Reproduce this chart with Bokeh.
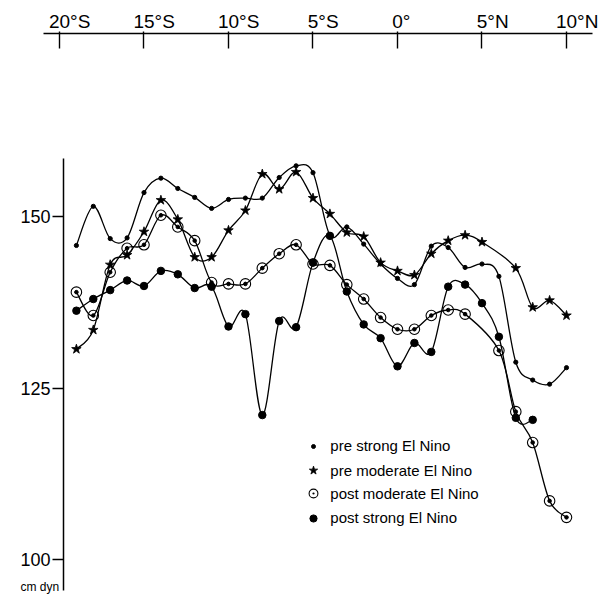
from bokeh.plotting import figure
from bokeh.models import FixedTicker, Label, Legend, LegendItem, ColumnDataSource
from bokeh.embed import file_html
from bokeh.resources import INLINE

# ---------------- data ----------------
lat_ticks = [-20, -15, -10, -5, 0, 5, 10]
lat_tick_labels = ["20°S", "15°S", "10°S", "5°S", "0°", "5°N", "10°N"]
y_ticks = [100, 125, 150]
y_unit = "cm dyn"

pre_strong_lat = [-19, -18, -17, -16, -15, -14, -13, -12, -11, -10, -9, -8, -7, -6, -5,
                  -4, -3, -2, -1, 0, 1, 2, 3, 4, 5, 6, 7, 8, 9, 10]
pre_strong_val = [145.8, 151.5, 146.8, 146.9, 153.5, 155.6, 154.1, 152.8, 151.2, 152.5,
                  152.7, 152.7, 155.7, 157.4, 156.4, 147.3, 148.5, 146.0, 143.1, 141.0,
                  140.1, 145.7, 145.5, 142.6, 143.1, 141.3, 128.8, 126.2, 125.6, 128.0]

pre_moderate_lat = [-19, -18, -17, -16, -15, -14, -13, -12, -11, -10, -9, -8, -7, -6, -5,
                    -4, -3, -2, -1, 0, 1, 2, 3, 4, 5, 7, 8, 9, 10]
pre_moderate_val = [130.7, 133.5, 143.0, 144.4, 147.8, 152.4, 149.6, 144.1, 144.1, 148.0,
                    150.9, 156.2, 154.0, 156.5, 152.7, 150.4, 147.7, 147.1, 143.3, 142.1,
                    141.5, 144.6, 146.5, 147.3, 146.3, 142.5, 136.8, 137.8, 135.6]

post_moderate_lat = [-19, -18, -17, -16, -15, -14, -13, -12, -11, -10, -9, -8, -7, -6, -5,
                     -4, -3, -2, -1, 0, 1, 2, 3, 4, 6, 7, 8, 9, 10]
post_moderate_val = [139.0, 135.6, 141.9, 145.4, 145.9, 150.2, 148.5, 146.5, 140.4, 140.2,
                     140.2, 142.5, 144.6, 145.9, 143.1, 142.9, 140.1, 138.0, 135.3, 133.6,
                     133.6, 135.6, 136.4, 135.8, 130.5, 121.6, 117.1, 108.6, 106.2]

post_strong_lat = [-19, -18, -17, -16, -15, -14, -13, -12, -11, -10, -9, -8, -7, -6, -5,
                   -4, -3, -2, -1, 0, 1, 2, 3, 4, 5, 6, 7, 8]
post_strong_val = [136.3, 138.0, 139.3, 140.7, 139.9, 142.1, 141.6, 139.6, 139.8, 134.0,
                   135.8, 121.1, 134.8, 133.9, 143.3, 147.2, 139.1, 134.3, 132.3, 128.2,
                   131.6, 130.3, 139.8, 140.1, 137.4, 132.5, 120.7, 120.4]

series_labels = ["pre strong El Nino", "pre moderate El Nino",
                 "post moderate El Nino", "post strong El Nino"]

FONT = "Liberation Sans"
W, H = 601, 595

# ---------------- figure (frame covers the whole canvas) ----------------
p = figure(width=W, height=H, output_backend="svg", toolbar_location=None,
           x_range=(-23.491, 12.071), y_range=(94.82, 181.48),
           x_axis_location="above",
           min_border_left=0, min_border_right=0, min_border_top=0, min_border_bottom=0)
p.outline_line_color = None
p.grid.visible = False
p.background_fill_color = "white"
p.border_fill_color = "white"

# top latitude axis
xa = p.xaxis[0]
xa.fixed_location = 176.63
xa.bounds = (-20.947, 11.538)
xa.ticker = FixedTicker(ticks=lat_ticks, minor_ticks=[])
xa.major_label_overrides = {t: "" for t in lat_ticks}
xa.major_tick_in = 15
xa.major_tick_out = 2
xa.minor_tick_in = 0
xa.minor_tick_out = 0
xa.axis_line_width = 1.4
xa.major_tick_line_width = 1.4
xa.axis_line_color = "black"
xa.major_tick_line_color = "black"

# left height axis
ya = p.yaxis[0]
ya.ticker = FixedTicker(ticks=y_ticks, minor_ticks=[])
ya.fixed_location = -19.76
ya.bounds = (95.5, 158.4)
ya.major_tick_out = 11
ya.major_tick_in = 0
ya.minor_tick_in = 0
ya.minor_tick_out = 0
ya.major_label_standoff = 2
ya.axis_line_width = 1.5
ya.major_tick_line_width = 1.4
ya.axis_line_color = "black"
ya.major_tick_line_color = "black"
ya.major_label_text_font = FONT
ya.major_label_text_font_size = "18px"
ya.major_label_text_color = "black"

# top tick labels (number part centred on the tick)
TOP_FS = 19
for t, lbl in zip(lat_ticks, lat_tick_labels):
    num = lbl.rstrip("°SN")
    p.add_layout(Label(x=t, y=H - 21.0, x_units="data", y_units="screen", text=lbl,
                       text_align="left", text_baseline="alphabetic",
                       x_offset=-len(num) * 0.278 * TOP_FS,
                       text_font=FONT, text_font_size=f"{TOP_FS}px", text_color="black"))

p.add_layout(Label(x=20, y=H - 586, x_units="screen", y_units="screen", text=y_unit,
                   text_align="left", text_baseline="alphabetic",
                   text_font=FONT, text_font_size="12px", text_color="black"))


# ---------------- smooth curves ----------------
def bezier_source(xs, ys):
    n = len(xs)
    d = dict(x0=[], y0=[], x1=[], y1=[], cx0=[], cy0=[], cx1=[], cy1=[])
    for i in range(n - 1):
        a, b, c, e = max(i - 1, 0), i, i + 1, min(i + 2, n - 1)
        d["x0"].append(xs[b]); d["y0"].append(ys[b])
        d["x1"].append(xs[c]); d["y1"].append(ys[c])
        d["cx0"].append(xs[b] + (xs[c] - xs[a]) / 6.0)
        d["cy0"].append(ys[b] + (ys[c] - ys[a]) / 6.0)
        d["cx1"].append(xs[c] - (xs[e] - xs[b]) / 6.0)
        d["cy1"].append(ys[c] - (ys[e] - ys[b]) / 6.0)
    return ColumnDataSource(d)


LW = 1.3
for lats, vals in [(pre_strong_lat, pre_strong_val), (pre_moderate_lat, pre_moderate_val),
                   (post_moderate_lat, post_moderate_val), (post_strong_lat, post_strong_val)]:
    p.bezier(x0="x0", y0="y0", x1="x1", y1="y1", cx0="cx0", cy0="cy0", cx1="cx1", cy1="cy1",
             source=bezier_source(lats, vals), line_color="black", line_width=LW)

# ---------------- markers ----------------
r_ps = p.scatter(pre_strong_lat, pre_strong_val, marker="circle", size=4.2,
                 fill_color="black", line_color="black")
r_pm = p.scatter(pre_moderate_lat, pre_moderate_val, marker="star", size=10,
                 fill_color="black", line_color="black", line_width=0.8)
r_qm = p.scatter(post_moderate_lat, post_moderate_val, marker="circle_dot", size=10.5,
                 fill_color="white", fill_alpha=0.0, line_color="black", line_width=1.1)
p.scatter(post_moderate_lat, post_moderate_val, marker="circle", size=3.6,
          fill_color="black", line_color="black")
r_qs = p.scatter(post_strong_lat, post_strong_val, marker="circle", size=7.5,
                 fill_color="black", line_color="black")

# ---------------- legend (one per entry so marker sizes differ) ----------------
leg_renderers = [r_ps, r_pm, r_qm, r_qs]
leg_glyph_w = [10, 22, 24, 18]
leg_row_center_img = [445.5, 470.0, 493.3, 517.7]
GH = 22
for lbl, r, gw, yc in zip(series_labels, leg_renderers, leg_glyph_w, leg_row_center_img):
    left = 313.3 - gw / 2.0
    bottom = yc + GH / 2.0
    leg = Legend(items=[LegendItem(label=lbl, renderers=[r])],
                 location=(left, H - bottom),
                 glyph_width=gw, glyph_height=GH, label_height=GH,
                 label_standoff=int(round(17.4 - gw / 2.0)),
                 padding=0, margin=0, spacing=0,
                 border_line_color=None, background_fill_alpha=0.0,
                 label_text_font=FONT, label_text_font_size="15px",
                 label_text_color="black")
    p.add_layout(leg)

open("out.html", "w").write(file_html(p, INLINE))
